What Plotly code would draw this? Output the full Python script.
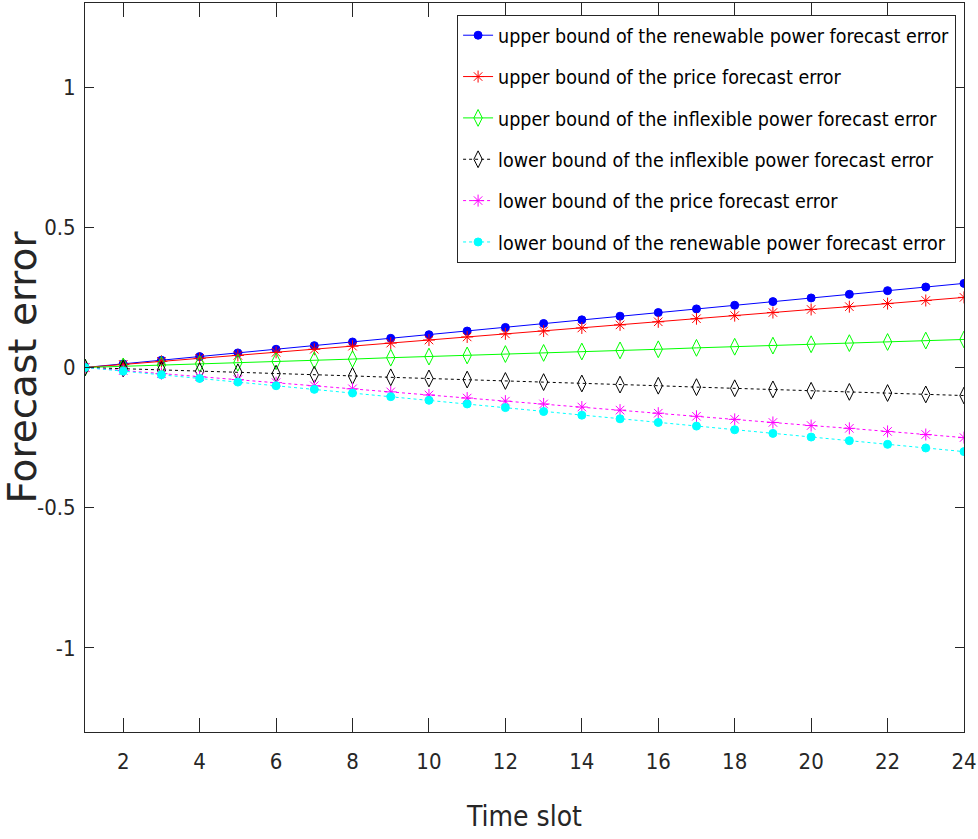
import plotly.graph_objects as go

time_slot = list(range(1, 25))

upper_renewable = [0.000, 0.013, 0.026, 0.039, 0.052, 0.065, 0.078, 0.091, 0.104, 0.117, 0.130, 0.143,
                   0.157, 0.170, 0.183, 0.196, 0.209, 0.222, 0.235, 0.248, 0.261, 0.274, 0.287, 0.300]
upper_price = [0.000, 0.011, 0.022, 0.033, 0.043, 0.054, 0.065, 0.076, 0.087, 0.098, 0.109, 0.120,
               0.130, 0.141, 0.152, 0.163, 0.174, 0.185, 0.196, 0.207, 0.217, 0.228, 0.239, 0.250]
upper_inflexible = [0.000, 0.004, 0.009, 0.013, 0.017, 0.022, 0.026, 0.030, 0.035, 0.039, 0.043, 0.048,
                    0.052, 0.057, 0.061, 0.065, 0.070, 0.074, 0.078, 0.083, 0.087, 0.091, 0.096, 0.100]
lower_inflexible = [-0.000, -0.004, -0.009, -0.013, -0.017, -0.022, -0.026, -0.030, -0.035, -0.039, -0.043, -0.048,
                    -0.052, -0.057, -0.061, -0.065, -0.070, -0.074, -0.078, -0.083, -0.087, -0.091, -0.096, -0.100]
lower_price = [-0.000, -0.011, -0.022, -0.033, -0.043, -0.054, -0.065, -0.076, -0.087, -0.098, -0.109, -0.120,
               -0.130, -0.141, -0.152, -0.163, -0.174, -0.185, -0.196, -0.207, -0.217, -0.228, -0.239, -0.250]
lower_renewable = [-0.000, -0.013, -0.026, -0.039, -0.052, -0.065, -0.078, -0.091, -0.104, -0.117, -0.130, -0.143,
                   -0.157, -0.170, -0.183, -0.196, -0.209, -0.222, -0.235, -0.248, -0.261, -0.274, -0.287, -0.300]

x_ticks = [2, 4, 6, 8, 10, 12, 14, 16, 18, 20, 22, 24]
y_ticks = [-1, -0.5, 0, 0.5, 1]
y_tick_labels = ["-1", "-0.5", "0", "0.5", "1"]

NARROW = "DejaVu Sans Condensed, Liberation Sans Narrow, sans-serif"
AXC = "#262626"

series = [
    ("upper bound of the renewable power forecast error", upper_renewable, "#0000FF", "circle", 8, "solid"),
    ("upper bound of the price forecast error", upper_price, "#FF0000", "asterisk-open", 10, "solid"),
    ("upper bound of the inflexible power forecast error", upper_inflexible, "#00FF00", "diamond-tall-open", 12, "solid"),
    ("lower bound of the inflexible power forecast error", lower_inflexible, "#000000", "diamond-tall-open", 12, "dot"),
    ("lower bound of the price forecast error", lower_price, "#FF00FF", "asterisk-open", 10, "dot"),
    ("lower bound of the renewable power forecast error", lower_renewable, "#00FFFF", "circle", 8, "dot"),
]

fig = go.Figure()
for i, (name, vals, color, sym, size, dash) in enumerate(series):
    fig.add_trace(go.Scatter(
        x=time_slot, y=vals, name=name, mode="lines+markers",
        legendgroup=f"g{i}",
        line=dict(color=color, width=1, dash=dash),
        marker=dict(symbol=sym, size=size, color=color, line=dict(color=color, width=1)),
    ))

fig.update_layout(
    width=978, height=839,
    margin=dict(l=85, r=14, t=3, b=107),
    paper_bgcolor="white", plot_bgcolor="white",
    font=dict(family=NARROW, color=AXC, size=21),
    showlegend=True,
    legend=dict(
        x=0.991, y=0.9835, xanchor="right", yanchor="top",
        bordercolor=AXC, borderwidth=1, bgcolor="white",
        font=dict(family=NARROW, size=19.5, color="#000000"),
        itemwidth=30, tracegroupgap=13,
    ),
    xaxis=dict(
        range=[1, 24], tickvals=x_ticks, ticks="inside", ticklen=14, tickcolor=AXC,
        showline=True, linecolor=AXC, linewidth=1, mirror="ticks",
        showgrid=False, zeroline=False, automargin=False,
        ticklabelstandoff=10,
        tickfont=dict(family=NARROW, size=22, color=AXC),
        title=dict(text="Time slot", font=dict(family=NARROW, size=28, color=AXC), standoff=32),
    ),
    yaxis=dict(
        range=[-1.3, 1.3], tickvals=y_ticks, ticktext=y_tick_labels, ticks="inside", ticklen=9, tickcolor=AXC,
        showline=True, linecolor=AXC, linewidth=1, mirror="ticks",
        showgrid=False, zeroline=False, automargin=False,
        ticklabelstandoff=4,
        tickfont=dict(family=NARROW, size=22, color=AXC),
        title=dict(text="Forecast error", font=dict(family="DejaVu Sans, sans-serif", size=39, color=AXC), standoff=6),
    ),
)

fig.write_html("out.html", config={"displayModeBar": False},
               post_script="document.body.style.margin='0px';document.body.style.padding='0px';")
